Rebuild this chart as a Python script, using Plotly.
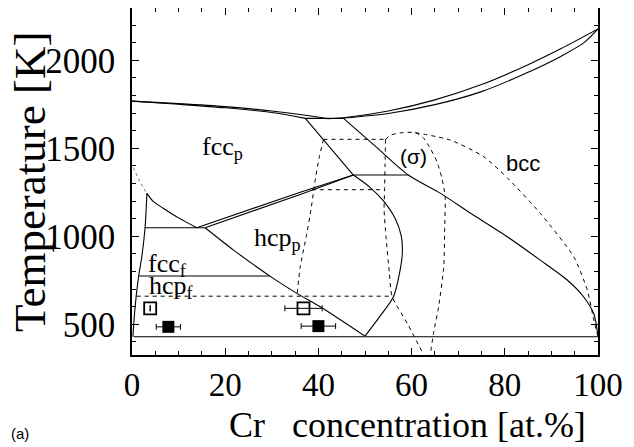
import plotly.graph_objects as go

# ---------------- data (Cr at.% , T in K) ----------------
liq_fcc_x = [0, 10, 20, 30, 37.2, 42]
liq_fcc_t = [1768, 1754, 1737, 1712, 1688, 1668]
sol_fcc_x = [0, 10, 20, 30, 37.2]
sol_fcc_t = [1768, 1750, 1730, 1703, 1670]
eut_x = [37.2, 45.4]
eut_t = [1670, 1670]
liq_bcc_x = [42, 45.4, 55, 65, 75, 85, 92, 100]
liq_bcc_t = [1668, 1674, 1712, 1775, 1862, 1975, 2065, 2178]
sol_bcc_x = [45.4, 55, 65, 75, 85, 92, 97, 100]
sol_bcc_t = [1672, 1698, 1748, 1822, 1932, 2022, 2100, 2178]

fcc_sig_x = [37.2, 47.5]
fcc_sig_t = [1670, 1348]
sig_hor_x = [47.5, 59.3]
sig_hor_t = [1348, 1348]
sig_bcc_x = [45.4, 52.5, 59.3, 66.2, 73, 80.5, 87.6, 93.4, 96.9, 99.1, 100]
sig_bcc_t = [1670, 1505, 1348, 1244, 1125, 998, 865, 752, 657, 560, 430]
hcp_sig_x = [47.5, 51, 54, 56.5, 57.8, 58, 57.4, 56.1, 53.2, 50]
hcp_sig_t = [1348, 1280, 1200, 1100, 1000, 900, 790, 657, 545, 433]

fh_up_x = [13.9, 25, 36.1, 47.5]
fh_up_t = [1049, 1150, 1250, 1348]
fh_lo_x = [15.7, 25, 36.1, 47.5]
fh_lo_t = [1049, 1135, 1238, 1348]

peak_x = [3.2, 4.5, 6.7, 10, 13.9]
peak_t = [1244, 1200, 1160, 1105, 1049]
vert_x = [3.2, 2.8, 2.1, 1.4, 0.6, 0.2]
vert_t = [1244, 1049, 884, 770, 581, 430]
h1049_x = [2.8, 15.7]
h1049_t = [1049, 1049]
diag_x = [15.7, 21.8, 30.4, 35.4, 40.4, 50]
diag_t = [1049, 922, 760, 676, 600, 433]
h775_x = [1.5, 29.5]
h775_t = [775, 775]
h430_x = [0.4, 100]
h430_t = [430, 430]

# dashed (metastable) lines
dl_x = [41.1, 40.2, 39.2, 38.4, 37.4, 36.1, 35.4]
dl_t = [1551, 1452, 1300, 1150, 1000, 827, 662]
dtop_x = [41.1, 54.4]
dtop_t = [1551, 1551]
dmid_x = [38.6, 54.2]
dmid_t = [1265, 1265]
d660_x = [1, 55.8]
d660_t = [660, 660]
dr_x = [54.4, 54.3, 54.2, 54.1, 54.5, 55.2, 55.8, 59.2, 62.6]
dr_t = [1551, 1400, 1265, 1150, 1000, 800, 660, 500, 326]
dome_x = [54.4, 55.5, 58, 60.8, 62.5, 64, 65.5, 66.5, 67.2, 67.1, 66.9, 65.8, 64.7, 64]
dome_t = [1551, 1575, 1589, 1589, 1560, 1500, 1420, 1330, 1225, 1050, 827, 600, 449, 326]
dbcc_x = [60.8, 68.3, 75.5, 81, 87.6, 94.8, 97.7, 99.1, 100]
dbcc_t = [1589, 1547, 1452, 1320, 1131, 884, 695, 525, 430]
dot_x = [0.3, 1.5, 3.0]
dot_t = [1390, 1320, 1250]

# experimental points
open_x = [3.9, 36.8]
open_t = [591, 591]
open_err = [0, 4.0]
fill_x = [7.8, 40.0]
fill_t = [486, 490]
fill_err = [2.6, 3.7]

x_ticks = [0, 20, 40, 60, 80, 100]
y_ticks = [500, 1000, 1500, 2000]

# ---------------- figure ----------------
fig = go.Figure()
solid_curved = [(liq_fcc_x, liq_fcc_t), (sol_fcc_x, sol_fcc_t), (liq_bcc_x, liq_bcc_t),
                (sol_bcc_x, sol_bcc_t), (sig_bcc_x, sig_bcc_t), (hcp_sig_x, hcp_sig_t),
                (peak_x, peak_t), (vert_x, vert_t), (diag_x, diag_t)]
solid_straight = [(eut_x, eut_t), (fcc_sig_x, fcc_sig_t), (sig_hor_x, sig_hor_t),
                  (fh_up_x, fh_up_t), (fh_lo_x, fh_lo_t), (h1049_x, h1049_t),
                  (h775_x, h775_t), (h430_x, h430_t)]
for xs, ts in solid_curved:
    fig.add_trace(go.Scatter(x=xs, y=ts, mode="lines",
                             line=dict(color="black", width=1.1, shape="spline", smoothing=0.8),
                             showlegend=False, hoverinfo="skip"))
for xs, ts in solid_straight:
    fig.add_trace(go.Scatter(x=xs, y=ts, mode="lines", line=dict(color="black", width=1.1),
                             showlegend=False, hoverinfo="skip"))
dashed = [(dl_x, dl_t), (dtop_x, dtop_t), (dmid_x, dmid_t), (d660_x, d660_t),
          (dr_x, dr_t), (dome_x, dome_t), (dbcc_x, dbcc_t)]
for xs, ts in dashed:
    fig.add_trace(go.Scatter(x=xs, y=ts, mode="lines",
                             line=dict(color="black", width=1, dash="4px,4px",
                                       shape="spline", smoothing=0.6),
                             showlegend=False, hoverinfo="skip"))
fig.add_trace(go.Scatter(x=dot_x, y=dot_t, mode="lines",
                         line=dict(color="#777", width=1, dash="dot"),
                         showlegend=False, hoverinfo="skip"))

fig.add_trace(go.Scatter(x=open_x, y=open_t, mode="markers",
                         marker=dict(symbol="square-open", size=12, color="black",
                                     line=dict(width=1.8)),
                         error_x=dict(type="data", array=open_err, color="black",
                                      thickness=1, width=3),
                         showlegend=False))
fig.add_trace(go.Scatter(x=fill_x, y=fill_t, mode="markers",
                         marker=dict(symbol="square", size=12, color="black"),
                         error_x=dict(type="data", array=fill_err, color="black",
                                      thickness=1, width=3),
                         showlegend=False))

serif = "Liberation Serif"
sans = "Liberation Sans"
ann = [
    dict(x=14.5, y=1500, text="fcc<sub>p</sub>", font=dict(family=serif, size=26, color="black"), xanchor="left"),
    dict(x=25.7, y=985, text="hcp<sub>p</sub>", font=dict(family=serif, size=26, color="black"), xanchor="left"),
    dict(x=3.0, y=840, text="fcc<sub>f</sub>", font=dict(family=serif, size=26, color="black"), xanchor="left"),
    dict(x=3.3, y=712, text="hcp<sub>f</sub>", font=dict(family=serif, size=26, color="black"), xanchor="left"),
    dict(x=60.4, y=1452, text="(σ)", font=dict(family=sans, size=21, color="black"), xanchor="center"),
    dict(x=83.9, y=1416, text="bcc", font=dict(family=sans, size=22, color="black"), xanchor="center"),
]
for a in ann:
    fig.add_annotation(xref="x", yref="y", showarrow=False, yanchor="middle", **a)

fig.add_annotation(xref="paper", yref="paper", x=-0.219, y=0.4986, text="Temperature [K]",
                   textangle=-90, showarrow=False, font=dict(family=serif, size=45, color="black"),
                   xanchor="center", yanchor="middle")
fig.add_annotation(xref="paper", yref="paper", x=0.592, y=-0.2017,
                   text="Cr\u00a0\u00a0\u00a0concentration [at.%]",
                   showarrow=False, font=dict(family=serif, size=36, color="black"),
                   xanchor="center", yanchor="middle")
fig.add_annotation(xref="paper", yref="paper", x=-0.24, y=-0.225, text="(a)",
                   showarrow=False, font=dict(family=sans, size=15, color="black"),
                   xanchor="center", yanchor="middle")

axis_common = dict(showline=True, linecolor="black", linewidth=1.5, mirror="allticks",
                   ticks="inside", tickcolor="black", ticklen=7, tickwidth=1.2,
                   showgrid=False, zeroline=False, automargin=False)
fig.update_xaxes(range=[0, 100], tickvals=x_ticks, ticktext=[str(v) for v in x_ticks],
                 minor=dict(ticks="inside", dtick=5, ticklen=4, tickcolor="black"),
                 tickfont=dict(family=serif, size=33, color="black"),
                 ticklabelstandoff=0, **axis_common)
fig.update_yaxes(range=[326, 2297], tickvals=y_ticks, ticktext=[str(v) for v in y_ticks],
                 minor=dict(ticks="inside", dtick=100, ticklen=4, tickcolor="black"),
                 tickfont=dict(family=serif, size=35, color="black"),
                 ticklabelstandoff=8, **axis_common)

# page body has an 8px margin, so the figure is offset by 8px
fig.update_layout(width=626, height=439, margin=dict(l=124, r=36, t=0, b=92),
                  plot_bgcolor="white", paper_bgcolor="white")
fig.write_html("out.html")
